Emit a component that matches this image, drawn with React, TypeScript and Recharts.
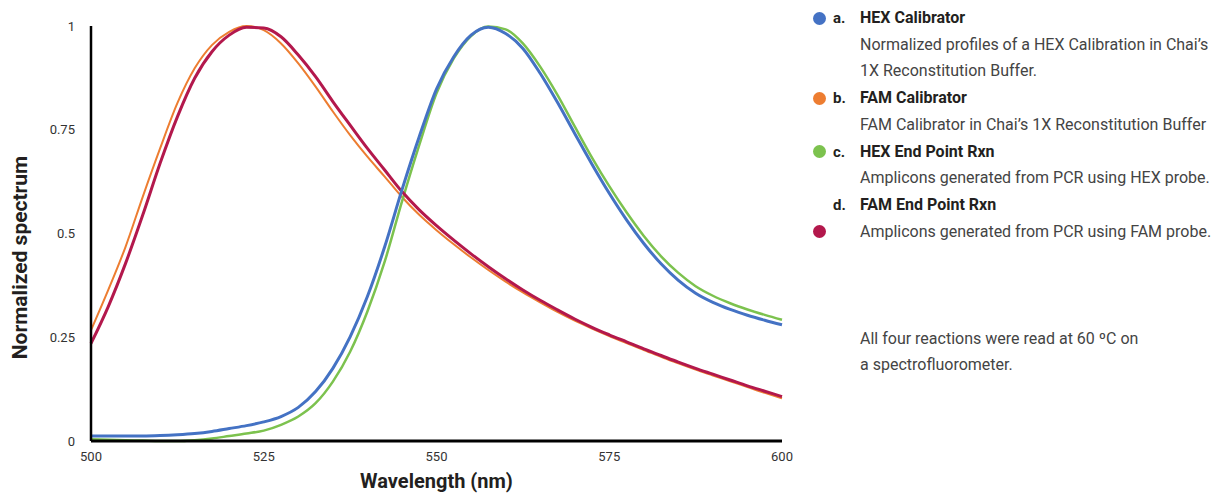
import React from "react";
import { LineChart, Line, XAxis, YAxis } from "recharts";

const wavelengths = [
  500, 502.5, 505, 507.5, 510, 512.5, 515, 517.5, 520, 522.5, 525, 527.5, 530, 532.5, 535, 537.5, 540, 542.5, 545,
  547.5, 550, 552.5, 555, 557.5, 560, 562.5, 565, 567.5, 570, 572.5, 575, 577.5, 580, 582.5, 585, 587.5, 590, 592.5,
  595, 597.5, 600,
];

const hexCalibrator = [
  0.012, 0.012, 0.012, 0.012, 0.013, 0.015, 0.018, 0.023, 0.03, 0.037, 0.046, 0.059, 0.081, 0.119, 0.175, 0.251, 0.348,
  0.468, 0.605, 0.733, 0.848, 0.926, 0.978, 0.997, 0.982, 0.946, 0.886, 0.816, 0.741, 0.667, 0.597, 0.533, 0.476, 0.427,
  0.387, 0.356, 0.334, 0.317, 0.303, 0.291, 0.28,
];

const famCalibrator = [
  0.267, 0.364, 0.468, 0.589, 0.705, 0.814, 0.898, 0.954, 0.986, 1.0, 0.99, 0.958, 0.91, 0.854, 0.794, 0.737, 0.685,
  0.637, 0.588, 0.545, 0.508, 0.474, 0.442, 0.412, 0.384, 0.358, 0.334, 0.311, 0.29, 0.271, 0.253, 0.236, 0.219, 0.203,
  0.187, 0.172, 0.158, 0.144, 0.13, 0.116, 0.103,
];

const hexEndPoint = [
  0.004, 0.003, 0.002, 0.001, 0.0, 0.0, 0.002, 0.006, 0.012, 0.018, 0.025, 0.039, 0.059, 0.091, 0.143, 0.215, 0.312,
  0.432, 0.577, 0.713, 0.838, 0.922, 0.976, 0.999, 0.992, 0.958, 0.902, 0.834, 0.758, 0.683, 0.614, 0.551, 0.494,
  0.445, 0.405, 0.373, 0.35, 0.332, 0.317, 0.304, 0.292,
];

const famEndPoint = [
  0.235, 0.324, 0.428, 0.545, 0.669, 0.781, 0.874, 0.938, 0.978, 0.997, 0.995, 0.974, 0.93, 0.878, 0.818, 0.761, 0.705,
  0.653, 0.601, 0.557, 0.519, 0.484, 0.451, 0.42, 0.391, 0.364, 0.339, 0.316, 0.294, 0.274, 0.256, 0.239, 0.222,
  0.206, 0.19, 0.175, 0.161, 0.147, 0.133, 0.12, 0.107,
];

const xTicks = [500, 525, 550, 575, 600];
const yTicks = [0, 0.25, 0.5, 0.75, 1];

const data = wavelengths.map((w, i) => ({
  w,
  hexCal: hexCalibrator[i],
  famCal: famCalibrator[i],
  hexEnd: hexEndPoint[i],
  famEnd: famEndPoint[i],
}));

const FONT = "Roboto, 'Noto Sans', sans-serif";

const legendItems = [
  { color: "#4472C4", letter: "a.", title: "HEX Calibrator", lines: ["Normalized profiles of a HEX Calibration in Chai\u2019s", "1X Reconstitution Buffer."], dotRow: 0 },
  { color: "#ED7D31", letter: "b.", title: "FAM Calibrator", lines: ["FAM Calibrator in Chai\u2019s 1X Reconstitution Buffer"], dotRow: 0 },
  { color: "#7CC24E", letter: "c.", title: "HEX End Point Rxn", lines: ["Amplicons generated from PCR using HEX probe."], dotRow: 0 },
  { color: "#B3184C", letter: "d.", title: "FAM End Point Rxn", lines: ["Amplicons generated from PCR using FAM probe."], dotRow: 1 },
];

const ROW = 26.7;

function Legend() {
  let row = 0;
  const rows: React.ReactNode[] = [];
  legendItems.forEach((item) => {
    const all = [item.title, ...item.lines];
    all.forEach((txt, j) => {
      const top = 5 + row * ROW;
      rows.push(
        <div key={item.letter + j} style={{ position: "absolute", top, left: 0, height: ROW, width: 420, lineHeight: `${ROW}px` }}>
          {item.dotRow === j && (
            <span
              style={{
                position: "absolute",
                left: 13,
                top: ROW / 2 - 6.5,
                width: 13,
                height: 13,
                borderRadius: "50%",
                background: item.color,
              }}
            />
          )}
          {j === 0 && (
            <span style={{ position: "absolute", left: 33, top: 0, fontWeight: 700, color: "#231f20", fontSize: 15 }}>
              {item.letter}
            </span>
          )}
          <span
            style={{
              position: "absolute",
              left: 60,
              top: 0,
              fontWeight: j === 0 ? 700 : 400,
              color: j === 0 ? "#231f20" : "#444",
              fontSize: 16,
              whiteSpace: "nowrap",
            }}
          >
            {txt}
          </span>
        </div>
      );
      row++;
    });
  });
  return (
    <div style={{ position: "absolute", left: 800, top: 0, width: 415, height: 494, fontFamily: FONT }}>
      {rows}
      <div style={{ position: "absolute", left: 60, top: 325.6, fontSize: 16, color: "#444", lineHeight: `${ROW}px`, whiteSpace: "nowrap" }}>
        All four reactions were read at 60 ºC on
        <br />
        a spectrofluorometer.
      </div>
    </div>
  );
}

export default function App() {
  return (
    <div style={{ position: "absolute", left: 0, top: 0, width: 1215, height: 494, background: "#fff", fontFamily: FONT }}>
      <LineChart width={800} height={494} data={data} margin={{ top: 26, right: 18, bottom: 0, left: 0 }}>
        <XAxis
          dataKey="w"
          type="number"
          domain={[500, 600]}
          ticks={xTicks}
          tickLine={false}
          tickSize={0}
          tickMargin={11}
          height={53}
          axisLine={{ stroke: "#000", strokeWidth: 3 }}
          tick={{ fill: "#333", fontSize: 13, fontFamily: FONT }}
          label={({ viewBox }: any) => (
            <text
              x={viewBox.x + viewBox.width / 2}
              y={viewBox.y + 47}
              textAnchor="middle"
              fontSize={20}
              fontWeight={700}
              fill="#231f20"
              fontFamily={FONT}
            >
              Wavelength (nm)
            </text>
          )}
        />
        <YAxis
          type="number"
          domain={[0, 1]}
          ticks={yTicks}
          tickLine={false}
          tickSize={0}
          tickMargin={16}
          width={91}
          axisLine={{ stroke: "#000", strokeWidth: 2.5 }}
          tick={{ fill: "#333", fontSize: 13, fontFamily: FONT }}
          label={({ viewBox }: any) => {
            const cx = 27;
            const cy = viewBox.y + viewBox.height / 2 + 24;
            return (
              <text
                x={cx}
                y={cy}
                transform={`rotate(-90, ${cx}, ${cy})`}
                textAnchor="middle"
                fontSize={21}
                fontWeight={700}
                fill="#231f20"
                fontFamily={FONT}
              >
                Normalized spectrum
              </text>
            );
          }}
        />
        <Line type="monotone" dataKey="famCal" stroke="#ED7D31" strokeWidth={2} dot={false} isAnimationActive={false} />
        <Line type="monotone" dataKey="hexEnd" stroke="#7CC24E" strokeWidth={2.5} dot={false} isAnimationActive={false} />
        <Line type="monotone" dataKey="famEnd" stroke="#B3184C" strokeWidth={3} dot={false} isAnimationActive={false} />
        <Line type="monotone" dataKey="hexCal" stroke="#4472C4" strokeWidth={3} dot={false} isAnimationActive={false} />
      </LineChart>
      <Legend />
    </div>
  );
}
